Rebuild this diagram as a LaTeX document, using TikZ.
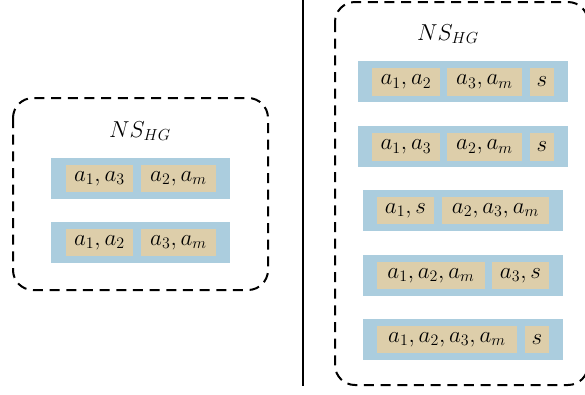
\documentclass[tikz,border=0pt]{standalone}
\usepackage{amsmath}
\usepackage{amssymb}
\usepackage{tikz}
\tikzset{every picture/.style={line width=0.75pt}}
\tikzset{
  barbox/.style={fill={rgb, 255:red, 171; green, 205; blue, 222 }, draw=none},
  tanbox/.style={fill={rgb, 255:red, 221; green, 206; blue, 170 }, inner sep=0pt, minimum height=20.5pt, font=\fontsize{18.5}{22}\selectfont},
  groupbox/.style={draw={rgb, 255:red, 0; green, 0; blue, 0 }, line width=1.5, dash pattern={on 7.5pt off 5pt}, rounded corners=15pt},
  titletext/.style={inner sep=0.75pt, font=\fontsize{18}{22}\selectfont}
}

\begin{document}
\begin{tikzpicture}[x=0.75pt,y=0.75pt,yscale=-1,xscale=1]
\clip (0,0) rectangle (585,394);
\useasboundingbox (0,0) rectangle (585,394);

%Shape: Dashed box left
\draw [groupbox] (13,98) rectangle (268,290);
%Shape: Bars left
\fill [barbox] (51,158) rectangle (230,199);
\fill [barbox] (51,222) rectangle (230,263);

% Text Node
\node (ltitle) [titletext] at (140,131) {$NS_{HG}$};
% Text Node
\node (lrow1a) [tanbox, minimum width=50.25pt] at (99.5,178.5) {$a_1,a_3$};
\node (lrow1b) [tanbox, minimum width=56.25pt] at (178.5,178.5) {$a_2,a_m$};
% Text Node
\node (lrow2a) [tanbox, minimum width=50.25pt] at (99.5,242.5) {$a_1,a_2$};
\node (lrow2b) [tanbox, minimum width=56.25pt] at (178.5,242.5) {$a_3,a_m$};

%Straight Lines
\draw [line width=1.5] (303,0) -- (303,386);

%Shape: Dashed box right
\draw [groupbox] (335,2) rectangle (588,385);
%Shape: Bars right
\fill [barbox] (358,61) rectangle (568,102);
\fill [barbox] (358,126) rectangle (568,167);
\fill [barbox] (363,190) rectangle (563,231);
\fill [barbox] (363,255) rectangle (563,296);
\fill [barbox] (363,319) rectangle (563,360);

% Text Node
\node (rtitle) [titletext] at (448,34) {$NS_{HG}$};
% Text Node
\node (rrow1a) [tanbox, minimum width=51pt] at (406,82) {$a_1,a_2$};
\node (rrow1b) [tanbox, minimum width=56.25pt] at (484.5,82) {$a_3,a_m$};
\node (rrow1c) [tanbox, minimum width=18pt] at (542,82) {$s$};
% Text Node
\node (rrow2a) [tanbox, minimum width=51pt] at (406,147) {$a_1,a_3$};
\node (rrow2b) [tanbox, minimum width=56.25pt] at (484.5,147) {$a_2,a_m$};
\node (rrow2c) [tanbox, minimum width=18pt] at (542,147) {$s$};
% Text Node
\node (rrow3a) [tanbox, minimum width=42.75pt] at (405.5,210.5) {$a_1,s$};
\node (rrow3b) [tanbox, minimum width=80.25pt] at (495.5,210.5) {$a_2,a_3,a_m$};
% Text Node
\node (rrow4a) [tanbox, minimum width=81pt] at (431,275.5) {$a_1,a_2,a_m$};
\node (rrow4b) [tanbox, minimum width=42.75pt] at (520.5,275.5) {$a_3,s$};
% Text Node
\node (rrow5a) [tanbox, minimum width=105pt] at (447,339.5) {$a_1,a_2,a_3,a_m$};
\node (rrow5b) [tanbox, minimum width=18pt] at (537,339.5) {$s$};

\end{tikzpicture}
\end{document}
